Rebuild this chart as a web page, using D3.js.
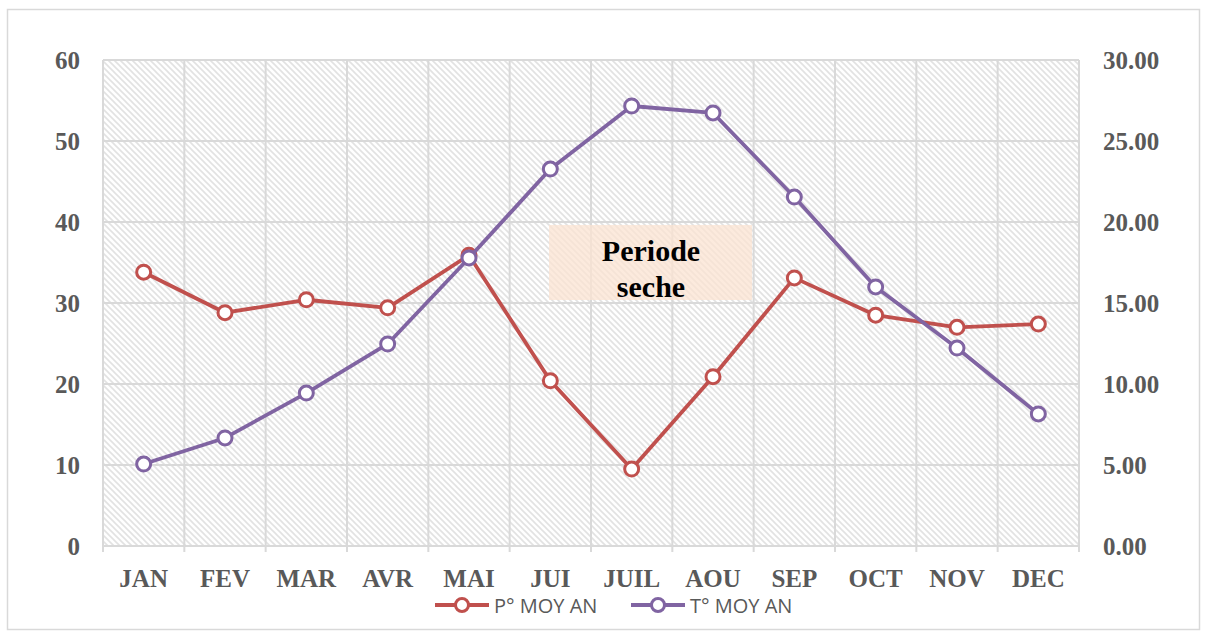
<!DOCTYPE html>
<html><head><meta charset="utf-8">
<script src="https://cdn.jsdelivr.net/npm/d3@7"></script>
<style>body{margin:0;background:#fff}</style>
</head><body>
<svg id="c" width="1208" height="637"></svg>
<script>
const months = ["JAN","FEV","MAR","AVR","MAI","JUI","JUIL","AOU","SEP","OCT","NOV","DEC"];
const precip = [33.8,28.8,30.4,29.4,35.9,20.4,9.5,20.9,33.1,28.5,27.0,27.4];
const temp = [5.06,6.67,9.44,12.47,17.78,23.27,27.16,26.73,21.54,15.99,12.22,8.15];
const leftTicks = [0,10,20,30,40,50,60];
const rightTicks = [0,5,10,15,20,25,30];
const seriesNames = ["P° MOY AN","T° MOY AN"];
const annotation = ["Periode","seche"];

const svg = d3.select("#c");
const m = {l:103, r:1079, t:60, b:546};
const x = d3.scaleBand().domain(months).range([m.l, m.r]);
const yL = d3.scaleLinear().domain([0,60]).range([m.b, m.t]);
const yR = d3.scaleLinear().domain([0,30]).range([m.b, m.t]);

// outer border
svg.append("rect").attr("x",7.5).attr("y",9.5).attr("width",1192).attr("height",620)
  .attr("fill","#fff").attr("stroke","#d9d9d9").attr("stroke-width",1.5);

// hatch pattern
const defs = svg.append("defs");
const pat = defs.append("pattern").attr("id","hatch").attr("patternUnits","userSpaceOnUse")
  .attr("width",6).attr("height",6);
pat.append("rect").attr("width",6).attr("height",6).attr("fill","#fff");
pat.append("path").attr("d","M-1,-1 L7,7 M-4,2 L4,10 M2,-4 L10,4")
  .attr("stroke","#e2e2e2").attr("stroke-width",1.6);

svg.append("rect").attr("x",m.l).attr("y",m.t).attr("width",m.r-m.l).attr("height",m.b-m.t)
  .attr("fill","url(#hatch)");

// grid
const g = svg.append("g");
g.selectAll("line.h").data(leftTicks).join("line")
  .attr("x1",m.l).attr("x2",m.r).attr("y1",d=>yL(d)).attr("y2",d=>yL(d))
  .attr("stroke","#d9d9d9").attr("stroke-width",2);
const bounds = months.map(d=>x(d)).concat([m.r]);
g.selectAll("line.v").data(bounds).join("line")
  .attr("x1",d=>d).attr("x2",d=>d).attr("y1",m.t).attr("y2",m.b+6)
  .attr("stroke","#d9d9d9").attr("stroke-width",2);

// axis labels
const labStyle = s => s.attr("font-family","'Liberation Serif','Times New Roman',serif")
  .attr("font-weight","bold").attr("font-size",25).attr("fill","#595959");
svg.append("g").selectAll("text").data(leftTicks).join("text")
  .attr("x",80).attr("y",d=>yL(d)+8.5).attr("text-anchor","end").text(d=>d).call(labStyle);
svg.append("g").selectAll("text").data(rightTicks).join("text")
  .attr("x",1103).attr("y",d=>yR(d)+8.5).attr("text-anchor","start").text(d=>d.toFixed(2)).call(labStyle);
svg.append("g").selectAll("text").data(months).join("text")
  .attr("x",d=>x(d)+x.bandwidth()/2).attr("y",587).attr("text-anchor","middle").text(d=>d).call(labStyle);

// annotation box
svg.append("rect").attr("x",549).attr("y",225).attr("width",203).attr("height",75)
  .attr("fill","#fbe3d2").attr("fill-opacity",0.75);
svg.append("g").selectAll("text").data(annotation).join("text")
  .attr("x",651).attr("y",(d,i)=>261+i*36).attr("text-anchor","middle")
  .attr("font-family","'Liberation Serif','Times New Roman',serif").attr("font-weight","bold")
  .attr("font-size",30).attr("fill","#000").text(d=>d);

// series
const cx = d=>x(d)+x.bandwidth()/2;
function drawSeries(vals, scale, color){
  const pts = months.map((mo,i)=>[cx(mo), scale(vals[i])]);
  svg.append("path").attr("d",d3.line()(pts)).attr("fill","none")
    .attr("stroke",color).attr("stroke-width",3.8).attr("stroke-linejoin","round");
  svg.append("g").selectAll("circle").data(pts).join("circle")
    .attr("cx",d=>d[0]).attr("cy",d=>d[1]).attr("r",7)
    .attr("fill","#fff").attr("stroke",color).attr("stroke-width",3);
}
const colors = ["#c0504d","#8064a2"];
drawSeries(precip, yL, colors[0]);
drawSeries(temp, yR, colors[1]);

// legend
const leg = svg.append("g");
const legX = [435, 631];
seriesNames.forEach((n,i)=>{
  const lx = legX[i], ly = 605;
  leg.append("line").attr("x1",lx).attr("x2",lx+54).attr("y1",ly).attr("y2",ly)
    .attr("stroke",colors[i]).attr("stroke-width",3.8);
  leg.append("circle").attr("cx",lx+27).attr("cy",ly).attr("r",6.5)
    .attr("fill","#fff").attr("stroke",colors[i]).attr("stroke-width",3);
  leg.append("text").attr("x",lx+59).attr("y",ly+7.5).attr("font-family","'Open Sans','Liberation Sans',sans-serif")
    .attr("font-size",20).attr("fill","#595959").text(n);
});
</script>
</body></html>
